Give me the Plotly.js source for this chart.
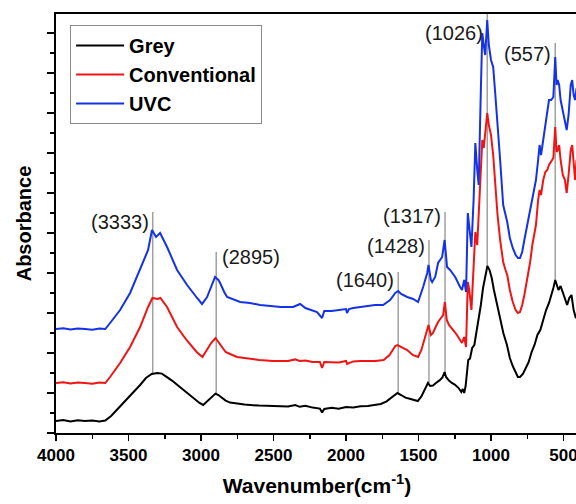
<!DOCTYPE html>
<html>
<head>
<meta charset="utf-8">
<script src="https://cdn.plot.ly/plotly-3.0.1.min.js"></script>
<style>
  html, body { margin: 0; padding: 0; overflow: hidden; background: #fff; }
  #chart { width: 578px; height: 504px; }
</style>
</head>
<body>
<div id="chart"></div>
<script>
// FTIR spectra (stacked), wavenumber in cm-1 and absorbance (arbitrary units)
const greyWn = [4000,3950,3900,3850,3800,3750,3700,3660,3620,3580,3540,3500,3460,3420,3380,3340,3300,3270,3240,3200,3150,3100,3050,3010,2985,2960,2930,2900,2880,2860,2830,2800,2750,2700,2600,2500,2400,2350,2320,2280,2230,2180,2165,2150,2100,2050,2000,1950,1900,1850,1800,1760,1720,1690,1660,1645,1620,1590,1560,1530,1505,1480,1455,1435,1420,1400,1380,1355,1335,1320,1310,1290,1270,1250,1225,1205,1195,1185,1175,1165,1157,1145,1130,1115,1100,1085,1070,1055,1040,1025,1010,995,980,965,950,935,915,890,870,850,830,815,800,780,760,740,720,700,680,660,640,620,600,585,570,557,545,535,520,505,490,475,460,445,430,415,400];
const greyAbs = [0.060,0.065,0.058,0.064,0.060,0.062,0.058,0.062,0.085,0.115,0.145,0.175,0.210,0.240,0.275,0.295,0.300,0.297,0.282,0.262,0.232,0.203,0.172,0.150,0.140,0.158,0.180,0.197,0.190,0.177,0.162,0.152,0.146,0.142,0.137,0.133,0.132,0.140,0.131,0.136,0.127,0.122,0.102,0.120,0.126,0.121,0.130,0.128,0.134,0.135,0.140,0.145,0.158,0.175,0.193,0.200,0.190,0.177,0.171,0.166,0.160,0.183,0.222,0.250,0.235,0.237,0.250,0.263,0.278,0.305,0.280,0.262,0.250,0.242,0.226,0.205,0.220,0.200,0.235,0.325,0.365,0.372,0.425,0.440,0.505,0.575,0.640,0.725,0.775,0.835,0.815,0.775,0.715,0.665,0.625,0.575,0.500,0.440,0.375,0.335,0.300,0.280,0.280,0.295,0.325,0.355,0.405,0.440,0.490,0.515,0.565,0.615,0.650,0.685,0.725,0.765,0.740,0.715,0.735,0.705,0.665,0.640,0.675,0.690,0.615,0.575,0.590];

const convWn = [4000,3950,3900,3850,3800,3750,3700,3660,3627,3558,3489,3420,3365,3335,3300,3280,3234,3165,3100,3030,2990,2960,2930,2900,2880,2860,2830,2800,2750,2700,2600,2500,2400,2350,2320,2280,2230,2180,2165,2150,2100,2050,2000,1993,1950,1900,1800,1740,1700,1680,1660,1645,1620,1578,1540,1503,1480,1460,1440,1431,1415,1400,1385,1365,1345,1330,1318,1305,1290,1270,1250,1235,1215,1200,1185,1172,1160,1150,1135,1120,1108,1095,1085,1070,1060,1050,1040,1026,1015,1000,985,970,955,937,916,900,888,870,850,830,814,800,785,770,750,730,715,700,690,675,665,655,640,625,612,600,585,570,557,548,540,530,520,505,490,478,465,450,440,430,420,410,400];
const convAbs = [0.250,0.254,0.248,0.253,0.250,0.246,0.252,0.250,0.280,0.350,0.430,0.530,0.630,0.675,0.670,0.675,0.630,0.530,0.465,0.405,0.380,0.415,0.450,0.475,0.455,0.435,0.405,0.395,0.380,0.375,0.365,0.360,0.360,0.368,0.360,0.362,0.355,0.355,0.325,0.355,0.355,0.352,0.360,0.345,0.358,0.360,0.360,0.365,0.390,0.415,0.435,0.440,0.430,0.415,0.390,0.380,0.415,0.465,0.515,0.540,0.490,0.500,0.525,0.555,0.575,0.590,0.655,0.565,0.540,0.525,0.505,0.490,0.465,0.450,0.480,0.430,0.755,0.715,0.615,0.815,1.005,0.940,1.090,1.340,1.465,1.425,1.490,1.600,1.540,1.490,1.390,1.240,1.090,0.965,0.855,0.815,0.790,0.715,0.655,0.615,0.600,0.605,0.640,0.690,0.765,0.855,0.940,1.005,1.040,1.165,1.215,1.190,1.265,1.305,1.315,1.340,1.355,1.375,1.530,1.405,1.415,1.440,1.365,1.290,1.265,1.200,1.290,1.415,1.440,1.340,1.265,1.365,1.315];

const uvcWn = [4000,3950,3900,3850,3800,3750,3700,3660,3627,3558,3489,3420,3365,3338,3310,3282,3234,3165,3096,3027,2993,2958,2930,2903,2880,2868,2840,2820,2730,2662,2592,2524,2450,2365,2316,2280,2230,2200,2165,2150,2100,2041,2000,1993,1980,1950,1904,1850,1800,1744,1696,1660,1640,1620,1578,1537,1503,1468,1440,1431,1415,1406,1385,1365,1337,1320,1303,1282,1247,1213,1200,1185,1172,1160,1150,1135,1120,1108,1095,1085,1070,1060,1050,1040,1026,1015,1000,985,970,955,937,916,900,888,870,850,830,814,800,785,770,750,730,715,705,690,675,665,655,640,625,612,600,585,570,557,548,540,530,520,505,490,478,465,450,440,430,420,410,400];
const uvcAbs = [0.520,0.524,0.518,0.522,0.520,0.516,0.522,0.520,0.550,0.615,0.700,0.815,0.915,1.015,0.980,1.000,0.930,0.815,0.740,0.675,0.645,0.680,0.730,0.780,0.765,0.750,0.705,0.680,0.655,0.650,0.640,0.635,0.630,0.630,0.645,0.625,0.610,0.605,0.575,0.610,0.610,0.615,0.620,0.600,0.620,0.625,0.630,0.635,0.640,0.640,0.665,0.700,0.710,0.695,0.680,0.670,0.655,0.730,0.800,0.840,0.765,0.755,0.780,0.850,0.880,0.965,0.830,0.815,0.780,0.730,0.715,0.765,0.705,1.100,1.025,0.930,1.165,1.450,1.315,1.240,1.715,2.000,1.940,1.890,2.065,1.940,1.865,1.830,1.690,1.515,1.365,1.140,1.090,1.055,0.975,0.925,0.890,0.875,0.875,0.905,0.965,1.040,1.115,1.190,1.225,1.265,1.365,1.440,1.390,1.465,1.565,1.630,1.665,1.665,1.680,1.880,1.740,1.765,1.740,1.665,1.615,1.565,1.515,1.590,1.740,1.765,1.690,1.665,1.725,1.690];

// Assigned bands
const peakWn = [3333, 2895, 1640, 1428, 1317, 1026, 557];
const peakLabels = ['(3333)', '(2895)', '(1640)', '(1428)', '(1317)', '(1026)', '(557)'];

// Where each marker line ends and where its label sits (absorbance units)
const markerPlacement = [
  { top: 1.105, labelY: 1.055, side: 'left' },
  { top: 0.905, labelY: 0.880, side: 'right' },
  { top: 0.805, labelY: 0.765, side: 'left' },
  { top: 0.965, labelY: 0.935, side: 'left' },
  { top: 1.105, labelY: 1.085, side: 'left' },
  { top: 2.095, labelY: 2.000, side: 'left' },
  { top: 1.950, labelY: 1.895, side: 'left' }
];

// Linear interpolation on a descending wavenumber grid
function interpAt(xs, ys, x) {
  for (let i = 0; i < xs.length - 1; i++) {
    if (x <= xs[i] && x >= xs[i + 1]) {
      const t = (xs[i] - x) / (xs[i] - xs[i + 1]);
      return ys[i] + t * (ys[i + 1] - ys[i]);
    }
  }
  return ys[ys.length - 1];
}

const FONT = 'Arial, "Liberation Sans", sans-serif';

const traces = [
  { x: greyWn, y: greyAbs, name: 'Grey', mode: 'lines', line: { color: '#000000', width: 2 } },
  { x: convWn, y: convAbs, name: 'Conventional', mode: 'lines', line: { color: '#f01414', width: 2 } },
  { x: uvcWn, y: uvcAbs, name: 'UVC', mode: 'lines', line: { color: '#1432e6', width: 2 } }
];

const shapes = peakWn.map((wn, i) => ({
  type: 'line', xref: 'x', yref: 'y', layer: 'below',
  x0: wn, x1: wn,
  y0: interpAt(greyWn, greyAbs, wn), y1: markerPlacement[i].top,
  line: { color: '#a0a0a0', width: 1.5 }
}));

const annotations = peakWn.map((wn, i) => ({
  x: wn, y: markerPlacement[i].labelY, xref: 'x', yref: 'y',
  text: peakLabels[i], showarrow: false,
  xanchor: markerPlacement[i].side === 'left' ? 'right' : 'left',
  yanchor: 'middle',
  xshift: markerPlacement[i].side === 'left' ? -2 : 4,
  font: { family: FONT, size: 20, color: '#1a1a1a' }
}));

const layout = {
  width: 578, height: 504,
  margin: { l: 56, r: 0, t: 14, b: 71 },
  paper_bgcolor: '#ffffff', plot_bgcolor: '#ffffff',
  showlegend: true,
  legend: {
    x: 0.027, y: 0.974, xanchor: 'left', yanchor: 'top',
    bgcolor: '#ffffff', bordercolor: '#8a8a8a', borderwidth: 1,
    font: { family: FONT, size: 20, color: '#000', weight: 'bold' },
    itemwidth: 48, tracegroupgap: 0
  },
  xaxis: {
    range: [4000, 400], autorange: false,
    showgrid: false, zeroline: false,
    showline: true, linecolor: '#000', linewidth: 2, mirror: true,
    ticks: 'outside', ticklen: 6, tickwidth: 1.5, tickcolor: '#000',
    tick0: 0, dtick: 500,
    minor: { ticks: 'outside', ticklen: 4, tickwidth: 1.5, tickcolor: '#000', dtick: 250, showgrid: false },
    tickfont: { family: FONT, size: 17, color: '#000', weight: 'bold' },
    title: { text: 'Wavenumber(cm<sup>-1</sup>)', font: { family: FONT, size: 21, color: '#000', weight: 'bold' }, standoff: 14 }
  },
  yaxis: {
    range: [0, 2.095], autorange: false,
    showgrid: false, zeroline: false,
    showline: true, linecolor: '#000', linewidth: 2, mirror: true,
    ticks: 'outside', ticklen: 7, tickwidth: 1.5, tickcolor: '#000',
    tick0: 0, dtick: 0.2, showticklabels: false,
    minor: { ticks: 'outside', ticklen: 4, tickwidth: 1.5, tickcolor: '#000', dtick: 0.1, showgrid: false },
    title: { text: 'Absorbance', font: { family: FONT, size: 20, color: '#000', weight: 'bold' }, standoff: 10 }
  },
  shapes: shapes,
  annotations: annotations
};

Plotly.newPlot('chart', traces, layout, { displayModeBar: false, staticPlot: true });
</script>
</body>
</html>
